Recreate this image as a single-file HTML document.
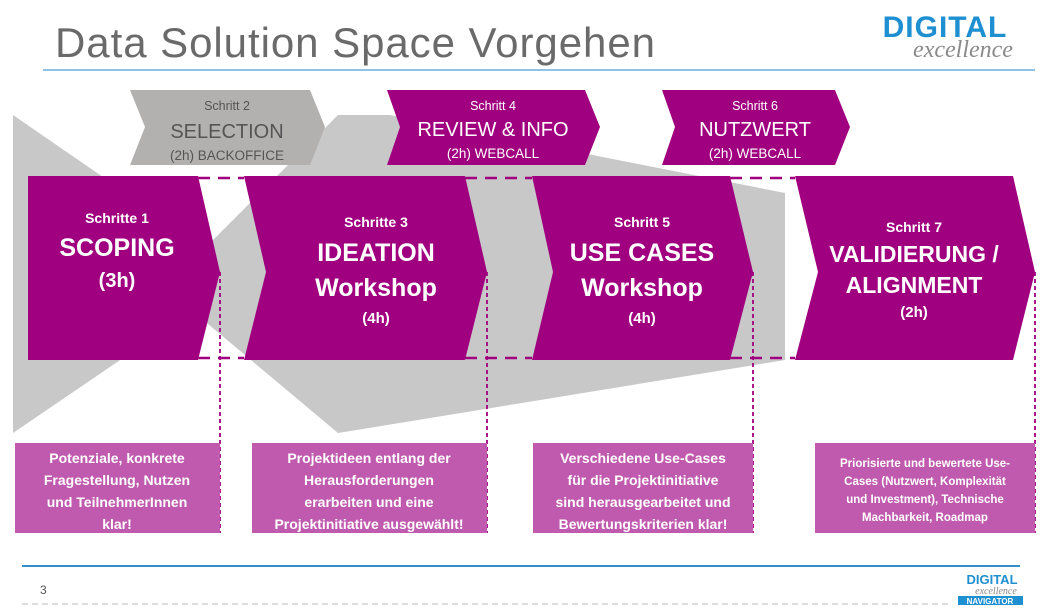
<!DOCTYPE html>
<html><head><meta charset="utf-8"><style>
html,body{margin:0;padding:0;background:#fff;}
body{width:1047px;height:608px;overflow:hidden;position:relative;font-family:"Liberation Sans",sans-serif;}
svg{position:absolute;left:0;top:0;}
</style></head><body>
<svg width="1047" height="608" viewBox="0 0 1047 608" xmlns="http://www.w3.org/2000/svg" font-family="Liberation Sans, sans-serif">
<text x="55" y="57" font-size="42" fill="#6a6a6a" textLength="600">Data Solution Space Vorgehen</text>
<line x1="43" y1="70" x2="1035" y2="70" stroke="#4a9fd5" stroke-width="1.2"/>
<text x="945" y="37" font-size="30" font-weight="bold" fill="#1e8fd0" text-anchor="middle" letter-spacing="1">DIGITAL</text>
<text x="963" y="57" font-size="24" font-style="italic" fill="#8a8a8a" text-anchor="middle" font-family="Liberation Serif, serif">excellence</text>

<g fill="#c8c8c9">
<polygon points="13,115 245,275 13,433"/>
<polygon points="165,288 338,115 338,433"/>
<polygon points="338,115 390,115 785,193 785,360 338,433"/>
</g>

<polygon points="130,90 310,90 325,127 310,165 130,165 145,127" fill="#b3b0b0"/>
<polygon points="387,90 585,90 600,127 585,165 387,165 400,127" fill="#a0007f"/>
<polygon points="662,90 835,90 850,127 835,165 662,165 675,127" fill="#a0007f"/>
<g text-anchor="middle">
<text x="227" y="110" font-size="12.5" fill="#555">Schritt 2</text>
<text x="227" y="138" font-size="20" fill="#555">SELECTION</text>
<text x="227" y="160" font-size="13.5" fill="#555">(2h) BACKOFFICE</text>
<text x="493" y="110" font-size="12.5" fill="#fff">Schritt 4</text>
<text x="493" y="136" font-size="20" fill="#fff">REVIEW &amp; INFO</text>
<text x="493" y="158" font-size="13.5" fill="#fff">(2h) WEBCALL</text>
<text x="755" y="110" font-size="12.5" fill="#fff">Schritt 6</text>
<text x="755" y="136" font-size="20" fill="#fff">NUTZWERT</text>
<text x="755" y="158" font-size="13.5" fill="#fff">(2h) WEBCALL</text>
</g>

<g stroke="#a0007f" stroke-width="2.5" stroke-dasharray="12,8" fill="none">
<line x1="198" y1="178" x2="244" y2="178"/><line x1="198" y1="358" x2="244" y2="358"/>
<line x1="465" y1="178" x2="532" y2="178"/><line x1="465" y1="358" x2="532" y2="358"/>
<line x1="730" y1="178" x2="795" y2="178"/><line x1="730" y1="358" x2="795" y2="358"/>
</g>
<g stroke="#a0007f" stroke-width="1.8" stroke-dasharray="4,3" fill="none">
<line x1="220" y1="272" x2="220" y2="533"/>
<line x1="487" y1="272" x2="487" y2="533"/>
<line x1="753" y1="272" x2="753" y2="533"/>
<line x1="1035" y1="272" x2="1035" y2="533"/>
</g>

<g fill="#a0007f">
<polygon points="28,176 198,176 220,272 198,360 28,360"/>
<polygon points="244,176 465,176 487,272 465,360 244,360 266,272"/>
<polygon points="532,176 730,176 753,272 730,360 532,360 553,272"/>
<polygon points="795,176 1013,176 1035,272 1013,360 795,360 818,272"/>
</g>
<g text-anchor="middle" fill="#fff" font-weight="bold">
<text x="117" y="223" font-size="14">Schritte 1</text>
<text x="117" y="256" font-size="25">SCOPING</text>
<text x="117" y="287" font-size="20">(3h)</text>
<text x="376" y="227" font-size="14">Schritte 3</text>
<text x="376" y="261" font-size="25">IDEATION</text>
<text x="376" y="296" font-size="25">Workshop</text>
<text x="376" y="323" font-size="15">(4h)</text>
<text x="642" y="227" font-size="14">Schritt 5</text>
<text x="642" y="261" font-size="25">USE CASES</text>
<text x="642" y="296" font-size="25">Workshop</text>
<text x="642" y="323" font-size="15">(4h)</text>
<text x="914" y="232" font-size="14">Schritt 7</text>
<text x="914" y="262" font-size="23">VALIDIERUNG /</text>
<text x="914" y="293" font-size="23">ALIGNMENT</text>
<text x="914" y="317" font-size="15">(2h)</text>
</g>

<g fill="#c05aae">
<rect x="15" y="443" width="205" height="90"/>
<rect x="252" y="443" width="235" height="90"/>
<rect x="533" y="443" width="220" height="90"/>
<rect x="815" y="443" width="220" height="90"/>
</g>
<g text-anchor="middle" fill="#fff" font-size="14" font-weight="bold">
<text x="117" y="463">Potenziale, konkrete</text>
<text x="117" y="485">Fragestellung, Nutzen</text>
<text x="117" y="507">und TeilnehmerInnen</text>
<text x="117" y="529">klar!</text>
<text x="369" y="463">Projektideen entlang der</text>
<text x="369" y="485">Herausforderungen</text>
<text x="369" y="507">erarbeiten und eine</text>
<text x="369" y="529">Projektinitiative ausgewählt!</text>
<text x="643" y="463">Verschiedene Use-Cases</text>
<text x="643" y="485">für die Projektinitiative</text>
<text x="643" y="507">sind herausgearbeitet und</text>
<text x="643" y="529">Bewertungskriterien klar!</text>
</g>
<g text-anchor="middle" fill="#fff" font-size="11.5" font-weight="bold">
<text x="925" y="467">Priorisierte und bewertete Use-</text>
<text x="925" y="485">Cases (Nutzwert, Komplexität</text>
<text x="925" y="503">und Investment), Technische</text>
<text x="925" y="521">Machbarkeit, Roadmap</text>
</g>

<line x1="22" y1="566" x2="1020" y2="566" stroke="#2f8fc7" stroke-width="2"/>
<text x="40" y="594" font-size="12" fill="#555">3</text>
<text x="992" y="584" font-size="13" font-weight="bold" fill="#1e8fd0" text-anchor="middle">DIGITAL</text>
<text x="996" y="594" font-size="10" font-style="italic" fill="#888" text-anchor="middle" font-family="Liberation Serif, serif">excellence</text>
<rect x="958" y="596" width="65" height="9" fill="#1e8fd0"/>
<text x="990" y="604" font-size="8" fill="#fff" text-anchor="middle" font-weight="bold">NAVIGATOR</text>
<line x1="22" y1="604" x2="950" y2="604" stroke="#bbb" stroke-width="1" stroke-dasharray="6,4"/>
</svg>
</body></html>
